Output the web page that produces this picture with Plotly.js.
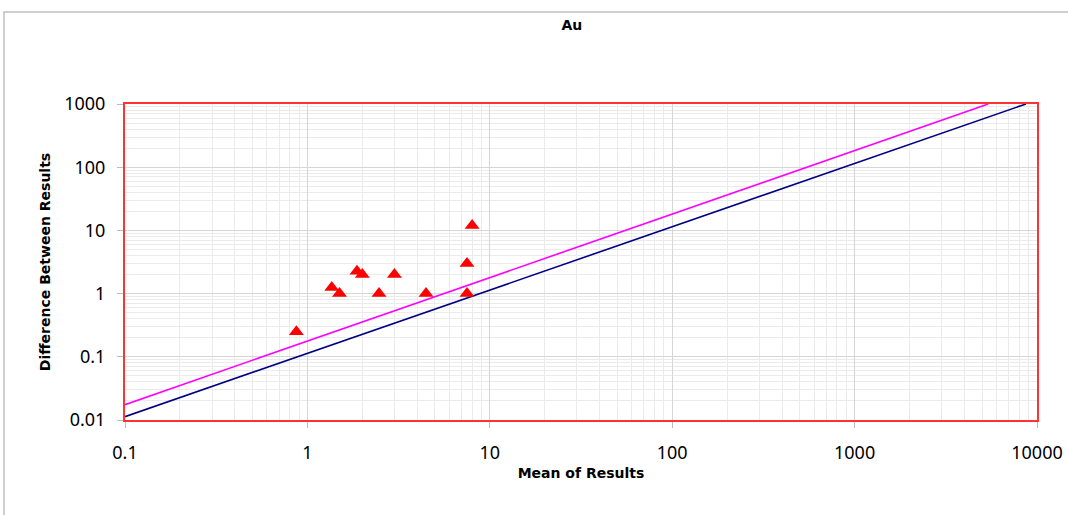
<!DOCTYPE html>
<html>
<head>
<meta charset="utf-8">
<script src="https://cdn.plot.ly/plotly-3.0.1.min.js"></script>
<style>
html,body{margin:0;padding:0;background:#fff;}
#chart{width:1068px;height:515px;}
</style>
</head>
<body>
<div id="chart"></div>
<script>
// Data
const meanResults = [0.87, 1.36, 1.5, 1.87, 2.0, 2.47, 3.0, 4.47, 7.5, 7.5, 8.0];
const diffResults = [0.25, 1.25, 1.0, 2.25, 2.0, 1.0, 2.0, 1.0, 3.0, 1.0, 12.0];

const upperLineX = [0.1, 5400];
const upperLineY = [0.0175, 1000];
const lowerLineX = [0.1, 8700];
const lowerLineY = [0.0113, 1000];

const tickVals = [0.1, 1, 10, 100, 1000, 10000];
const xTickText = ["0.1", "1", "10", "100", "1000", "10000"];
const yTickVals = [0.01, 0.1, 1, 10, 100, 1000];
const yTickText = ["0.01", "0.1", "1", "10", "100", "1000"];

const traces = [
  {x: upperLineX, y: upperLineY, mode: 'lines', type: 'scatter',
   line: {color: '#ff00ff', width: 1.6}, hoverinfo: 'skip'},
  {x: lowerLineX, y: lowerLineY, mode: 'lines', type: 'scatter',
   line: {color: '#000080', width: 1.6}, hoverinfo: 'skip'},
  {x: meanResults, y: diffResults, mode: 'markers', type: 'scatter',
   marker: {symbol: 'triangle-up', size: 13, color: '#ff0000'}}
];

const axisFont = {family: 'Noto Sans, sans-serif', size: 18, color: '#000'};
const titleFont = {family: 'DejaVu Sans, sans-serif', size: 14, color: '#000'};
const gridCol = '#d6d6d6';

const layout = {
  width: 1068, height: 515,
  margin: {l: 125, r: 31, t: 104, b: 95},
  paper_bgcolor: '#fff', plot_bgcolor: '#fff',
  showlegend: false,
  title: {text: '<b>Au</b>', x: 0.49, xref: 'paper', xanchor: 'center',
          y: 0.952, yref: 'container', yanchor: 'middle',
          font: titleFont},
  xaxis: {
    type: 'log', range: [-1, 4],
    tickvals: tickVals, ticktext: xTickText, tickfont: axisFont,
    showgrid: true, gridcolor: gridCol, gridwidth: 1,
    minor: {showgrid: true, gridcolor: '#ebebeb', gridwidth: 1, dtick: 'D1', ticks: ''},
    showline: true, linecolor: '#ff3333', linewidth: 2, mirror: true,
    ticks: 'outside', ticklen: 6, tickcolor: '#bbbbbb',
    ticklabelstandoff: 9,
    zeroline: false,
    title: {text: '<b>Mean of Results</b>', standoff: 6, font: titleFont}
  },
  yaxis: {
    type: 'log', range: [-2, 3],
    tickvals: yTickVals, ticktext: yTickText, tickfont: axisFont,
    showgrid: true, gridcolor: gridCol, gridwidth: 1,
    minor: {showgrid: true, gridcolor: '#ebebeb', gridwidth: 1, dtick: 'D1', ticks: ''},
    showline: true, linecolor: '#ff3333', linewidth: 2, mirror: true,
    ticks: 'outside', ticklen: 6, tickcolor: '#bbbbbb',
    ticklabelstandoff: 8,
    zeroline: false,
    title: {text: '<b>Difference Between Results</b>', standoff: 10, font: titleFont}
  },
  shapes: [
    {type: 'rect', xref: 'paper', yref: 'paper',
     x0: (4 - 125) / 912, x1: (1080 - 125) / 912,
     y0: (420 - 530) / 316, y1: (420 - 12) / 316,
     line: {color: '#bfbfbf', width: 1.5}, fillcolor: 'rgba(0,0,0,0)', layer: 'below'}
  ]
};

Plotly.newPlot('chart', traces, layout, {staticPlot: true, displayModeBar: false});
</script>
</body>
</html>
